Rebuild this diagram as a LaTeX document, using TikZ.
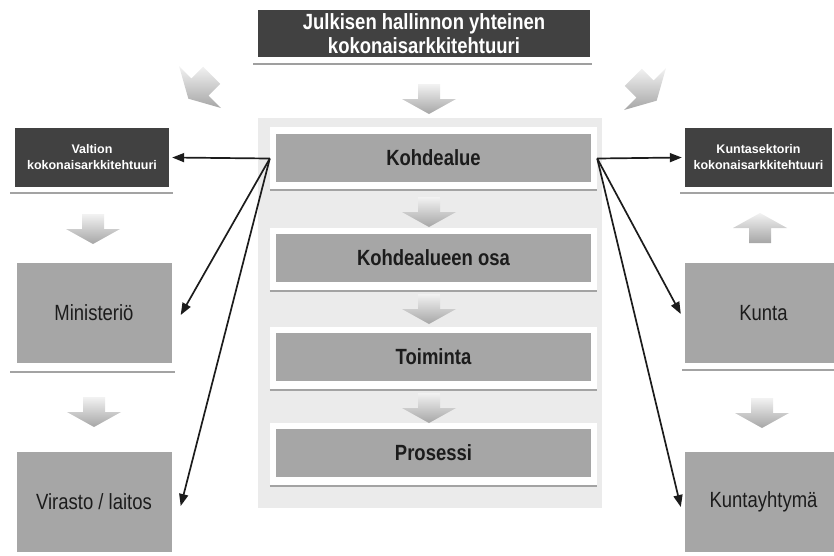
\documentclass[tikz,border=0pt]{standalone}
\usepackage{fontspec}
\setmainfont{Liberation Sans}[FakeStretch=0.84]
\newfontfamily\smallsans{Liberation Sans}
\usetikzlibrary{arrows.meta}
\definecolor{boxdark}{HTML}{414141}
\definecolor{boxgray}{HTML}{A6A6A6}
\definecolor{panelgray}{HTML}{EBEBEB}
\definecolor{rulegray}{HTML}{A3A3A3}
\definecolor{inkdark}{HTML}{1C1C1C}
\begin{document}
\begin{tikzpicture}[x=1pt,y=-1pt,
  titlebox/.style={fill=boxdark, text=white, inner sep=0pt, align=center,
    font=\fontsize{22}{24}\selectfont\bfseries},
  archbox/.style={fill=boxdark, text=white, inner sep=0pt, align=center,
    font=\smallsans\fontsize{12.5}{16}\selectfont\bfseries},
  frame/.style={fill=white, inner sep=0pt, minimum width=327pt, minimum height=63pt},
  levelbox/.style={fill=boxgray, text=inkdark, inner sep=0pt,
    minimum width=315pt, minimum height=48pt,
    font=\fontsize{22}{24}\selectfont\bfseries},
  unitbox/.style={fill=boxgray, text=inkdark, inner sep=0pt, align=center,
    minimum width=155pt, minimum height=100pt,
    font=\fontsize{22}{24}\selectfont},
  baseline rule/.style={draw=rulegray, line width=2.5pt},
  conn/.style={draw=inkdark, line width=1.7pt,
    -{Triangle[length=12pt,width=9pt]}},
  flowarrow/.pic={
    \shade[top color=gray!10, bottom color=gray!70]
      (-11,-15) -- (11,-15) -- (11,0) -- (27,0) -- (0,15) -- (-27,0) -- (-11,0) -- cycle;
  }
]
\useasboundingbox (0,0) rectangle (834,555);

% heading box
\node[titlebox, minimum width=332pt, minimum height=47pt] (title) at (424,33.5)
  {Julkisen hallinnon yhteinen\\kokonaisarkkitehtuuri};
\draw[baseline rule, draw=gray!75] (253,64) -- (592,64);

% central column
\fill[panelgray] (258,118) rectangle (602,508);

\node[frame] (k1w) at (433.5,158.5) {};
\node[frame] (k2w) at (433.5,259) {};
\node[frame] (k3w) at (433.5,358) {};
\node[frame] (k4w) at (433.5,454) {};
\foreach \f in {k1w,k2w,k3w,k4w}
  \draw[baseline rule, line width=2pt] (\f.south west) -- (\f.south east);

\node[levelbox] (k1) at (433.5,158) {Kohdealue};
\node[levelbox] (k2) at (433.5,258) {Kohdealueen osa};
\node[levelbox] (k3) at (433.5,357) {Toiminta};
\node[levelbox] (k4) at (433.5,453) {Prosessi};

\pic at (429,99) {flowarrow};
\pic at (429,212) {flowarrow};
\pic at (429,309) {flowarrow};
\pic at (429,408) {flowarrow};

% state side
\node[archbox, minimum width=154pt, minimum height=59pt] (valtion) at (92,157.5)
  {Valtion\\kokonaisarkkitehtuuri};
\draw[baseline rule, line width=2pt] (10,193) -- (173,193);
\node[unitbox] (ministerio) at (94,313) {Ministeriö};
\draw[baseline rule, line width=2pt] (10,372) -- (175,372);
\node[unitbox] (virasto) at (94,502) {Virasto / laitos};

\pic[rotate=-45, scale=1.1] at (200,87) {flowarrow};
\pic at (93,229) {flowarrow};
\pic at (94,412) {flowarrow};

% municipal side
\node[archbox, minimum width=147pt, minimum height=59pt] (kuntasektori) at (758.5,157.5)
  {Kuntasektorin\\kokonaisarkkitehtuuri};
\draw[baseline rule, line width=2pt] (680,193) -- (834,193);
\node[unitbox, minimum width=157pt] (kunta) at (763.5,313) {Kunta};
\draw[baseline rule, line width=2pt] (682,370) -- (834,370);
\node[unitbox, minimum width=157pt] (kuntayhtyma) at (763.5,502) {Kuntayhtymä};

\pic[rotate=45, scale=1.1] at (645,89) {flowarrow};
\pic[rotate=180] at (760,228) {flowarrow};
\pic at (762,413) {flowarrow};

% relations from the target area
\draw[conn] (k1w.west) -- ([xshift=3pt]valtion.east);
\draw[conn] (k1w.west) -- ([xshift=9pt,yshift=-2pt]ministerio.east);
\draw[conn] (k1w.west) -- ([xshift=9pt,yshift=-4pt]virasto.east);
\draw[conn] (k1w.east) -- ([xshift=-3pt]kuntasektori.west);
\draw[conn] (k1w.east) -- ([xshift=-4pt,yshift=-1pt]kunta.west);
\draw[conn] (k1w.east) -- ([xshift=-4pt,yshift=-5pt]kuntayhtyma.west);
\end{tikzpicture}
\end{document}
